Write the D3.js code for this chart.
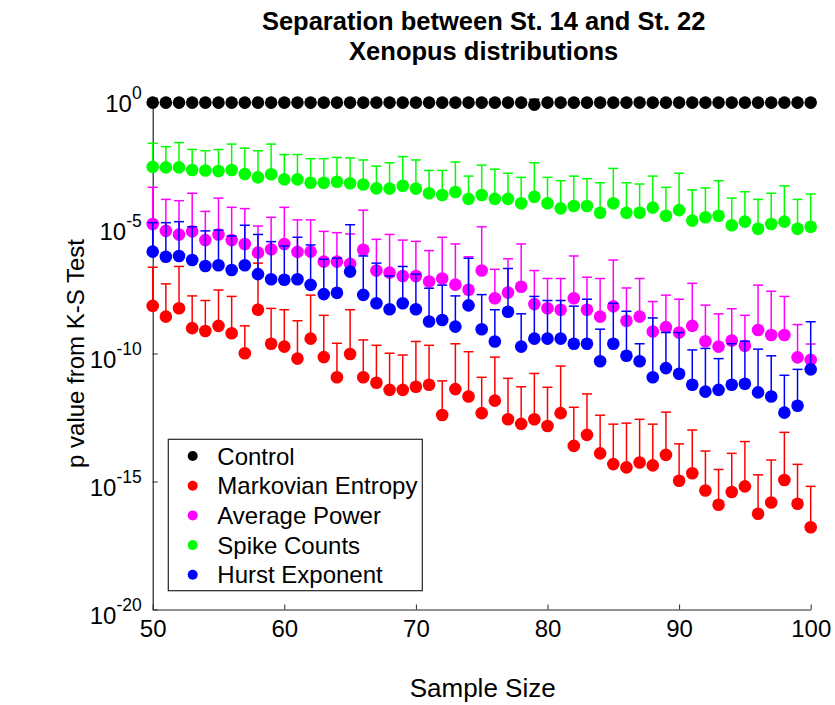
<!DOCTYPE html>
<html><head><meta charset="utf-8">
<script src="https://cdn.jsdelivr.net/npm/d3@7"></script>
<style>
body{margin:0;background:#fff}
svg{display:block}
text{font-family:"Liberation Sans",Arial,Helvetica,sans-serif;fill:#000}
</style>
</head><body>
<svg id="chart" width="835" height="705"></svg>
<script>
// ---- data (p values stored as log10 exponents) ----
const sampleSize = [50,51,52,53,54,55,56,57,58,59,60,61,62,63,64,65,66,67,68,69,70,71,72,73,74,75,76,77,78,79,80,81,82,83,84,85,86,87,88,89,90,91,92,93,94,95,96,97,98,99,100];
const seriesNames = ["Control","Markovian Entropy","Average Power","Spike Counts","Hurst Exponent"];
const seriesColors = ["#000000","#ff0000","#ff00ff","#00ff00","#0000ff"];

const controlLog = [-0.2,-0.2,-0.2,-0.2,-0.2,-0.2,-0.2,-0.2,-0.2,-0.2,-0.2,-0.2,-0.2,-0.2,-0.2,-0.2,-0.2,-0.2,-0.2,-0.2,-0.2,-0.2,-0.2,-0.2,-0.2,-0.2,-0.2,-0.2,-0.2,-0.28,-0.2,-0.2,-0.2,-0.2,-0.2,-0.2,-0.2,-0.2,-0.2,-0.2,-0.2,-0.2,-0.2,-0.2,-0.2,-0.2,-0.2,-0.2,-0.2,-0.2,-0.2];
const controlUpperLog = [-0.07,-0.07,-0.07,-0.07,-0.07,-0.07,-0.07,-0.07,-0.07,-0.07,-0.07,-0.07,-0.07,-0.07,-0.07,-0.07,-0.07,-0.07,-0.07,-0.07,-0.07,-0.07,-0.07,-0.07,-0.07,-0.07,-0.07,-0.07,-0.07,-0.07,-0.07,-0.07,-0.07,-0.07,-0.07,-0.07,-0.07,-0.07,-0.07,-0.07,-0.07,-0.07,-0.07,-0.07,-0.07,-0.07,-0.07,-0.07,-0.07,-0.07,-0.07];

const markovLog = [-8.14,-8.56,-8.23,-9.01,-9.12,-8.92,-9.21,-9.99,-8.29,-9.62,
  -9.73,-10.20,-9.42,-10.14,-10.93,-10.02,-10.93,-11.14,-11.42,-11.42,
  -11.30,-11.22,-12.40,-11.39,-11.68,-12.33,-11.84,-12.57,-12.75,-12.57,
  -12.83,-12.33,-13.61,-13.18,-13.90,-14.32,-14.45,-14.26,-14.37,-13.96,
  -14.97,-14.68,-15.35,-15.91,-15.41,-15.19,-16.26,-15.82,-14.94,-15.87,-16.79];
const markovUpperLog = [-6.63,-7.28,-6.60,-7.75,-7.93,-7.52,-7.77,-8.92,-6.47,-8.24,
  -8.29,-8.72,-7.72,-8.51,-9.60,-8.29,-9.47,-9.68,-9.99,-10.06,
  -9.53,-9.68,-11.07,-9.62,-9.93,-10.93,-10.14,-10.97,-11.30,-10.78,
  -11.32,-10.49,-12.10,-11.58,-12.41,-12.76,-12.72,-12.57,-12.76,-12.29,
  -13.53,-12.99,-13.81,-14.53,-13.90,-13.44,-14.74,-14.16,-13.08,-14.33,-15.19];

const powerLog = [-4.94,-5.21,-5.35,-5.23,-5.57,-5.35,-5.57,-5.72,-6.06,-5.93,
  -5.72,-6.03,-6.02,-6.41,-6.41,-6.50,-5.95,-6.76,-6.84,-6.97,
  -6.97,-7.19,-7.07,-7.31,-7.51,-6.76,-7.84,-7.62,-7.39,-8.07,
  -8.23,-8.29,-7.84,-8.29,-8.56,-8.16,-8.72,-8.56,-9.14,-8.97,
  -9.18,-8.92,-9.52,-9.73,-9.49,-9.70,-9.08,-9.28,-9.28,-10.15,-10.25];
const powerUpperLog = [-3.51,-3.98,-4.03,-3.74,-4.45,-3.93,-4.29,-4.34,-5.02,-4.68,
  -4.29,-4.78,-4.78,-5.23,-5.28,-5.33,-4.40,-5.54,-5.35,-5.57,
  -5.62,-5.98,-5.46,-5.72,-6.22,-5.05,-6.71,-6.30,-5.72,-6.76,
  -7.07,-7.07,-6.19,-7.02,-7.07,-6.35,-7.44,-7.07,-7.97,-7.72,
  -7.88,-7.26,-8.11,-8.45,-8.25,-8.51,-7.33,-7.57,-7.77,-8.87,-9.63];

const spikeLog = [-2.71,-2.73,-2.73,-2.83,-2.85,-2.87,-2.83,-2.99,-3.12,-3.00,
  -3.20,-3.20,-3.33,-3.33,-3.29,-3.35,-3.40,-3.55,-3.56,-3.45,
  -3.56,-3.74,-3.81,-3.69,-3.96,-3.81,-3.96,-3.96,-4.13,-3.88,
  -4.13,-4.33,-4.24,-4.24,-4.50,-4.13,-4.50,-4.50,-4.30,-4.62,
  -4.40,-4.81,-4.68,-4.62,-4.99,-4.85,-5.13,-4.94,-4.85,-5.13,-5.05];
const spikeUpperLog = [-1.79,-1.92,-1.76,-2.03,-2.08,-2.03,-1.82,-1.98,-2.08,-1.82,
  -2.23,-2.23,-2.39,-2.39,-2.34,-2.36,-2.44,-2.68,-2.55,-2.31,
  -2.44,-2.85,-2.85,-2.52,-3.07,-2.64,-2.80,-2.96,-3.12,-2.55,
  -3.12,-3.25,-3.07,-3.17,-3.33,-2.77,-3.33,-3.38,-3.07,-3.51,
  -2.96,-3.61,-3.53,-3.25,-3.93,-3.68,-3.98,-3.74,-3.45,-3.98,-3.77];

const hurstLog = [-6.02,-6.22,-6.19,-6.35,-6.58,-6.55,-6.74,-6.55,-6.90,-7.10,
  -7.12,-7.10,-7.32,-7.68,-7.63,-6.80,-7.71,-8.04,-8.27,-8.04,
  -8.27,-8.75,-8.69,-8.95,-8.12,-9.05,-9.53,-8.37,-9.73,-9.42,
  -9.42,-9.42,-9.62,-9.62,-10.30,-9.62,-10.09,-10.30,-10.93,-10.57,
  -10.79,-11.22,-11.49,-11.42,-11.22,-11.18,-11.52,-11.68,-12.31,-12.04,-10.62];
const hurstUpperLog = [-4.89,-4.89,-4.85,-5.05,-5.21,-5.18,-5.41,-4.99,-5.35,-5.63,
  -5.80,-5.46,-5.76,-6.32,-6.28,-4.97,-6.19,-6.47,-6.97,-6.60,
  -6.90,-7.45,-7.33,-7.75,-6.28,-7.70,-8.29,-6.68,-8.45,-7.77,
  -7.93,-7.93,-8.15,-7.88,-9.05,-8.04,-8.35,-9.62,-8.61,-9.18,
  -9.18,-9.86,-9.80,-10.20,-9.62,-9.52,-9.83,-10.09,-10.85,-10.62,-8.76];

const xTicks = [50,60,70,80,90,100];
const yTickExponents = [0,-5,-10,-15,-20];
const titleLines = ["Separation between St. 14 and St. 22","Xenopus distributions"];
const xLabel = "Sample Size";
const yLabel = "p value from K-S Test";

// ---- build series ----
const valueSets = [controlLog, markovLog, powerLog, spikeLog, hurstLog];
const upperSets = [controlUpperLog, markovUpperLog, powerUpperLog, spikeUpperLog, hurstUpperLog];
const series = seriesNames.map((name,i)=>({
  name, color: seriesColors[i],
  points: sampleSize.map((n,j)=>({n, p: Math.pow(10,valueSets[i][j]), up: Math.pow(10,upperSets[i][j])}))
}));

// ---- layout ----
const svg = d3.select("#chart");
const L = 152.7, R = 810.7, T = 97.5, B = 609.5;
const x = d3.scaleLinear().domain([50,100]).range([L,R]);
const y = d3.scaleLog().domain([1e-20,1]).range([B,T]);
const axisColor = "#262626";

// title
svg.append("g").selectAll("text").data(titleLines).join("text")
  .attr("x", (L+R)/2+2).attr("y",(d,i)=>30+i*30)
  .attr("text-anchor","middle").attr("font-size",25.5).attr("font-weight","bold")
  .text(d=>d);

// axes
const xAxis = d3.axisBottom(x).tickValues(xTicks).tickSize(-5).tickSizeOuter(0).tickPadding(11).tickFormat(d3.format("d"));
const gx = svg.append("g").attr("transform",`translate(0,${B})`).call(xAxis);
gx.select(".domain").attr("stroke",axisColor).attr("stroke-width",1.2);
gx.selectAll(".tick line").attr("stroke",axisColor);
gx.selectAll(".tick text").attr("font-size",24).attr("font-family","Liberation Sans, Arial, sans-serif").attr("fill","#000").attr("dy","0.7em");

const yAxis = d3.axisLeft(y).tickValues(yTickExponents.map(e=>Math.pow(10,e))).tickSize(-5).tickSizeOuter(0).tickFormat("");
const gy = svg.append("g").attr("transform",`translate(${L},0)`).call(yAxis);
gy.select(".domain").attr("stroke",axisColor).attr("stroke-width",1.2);
gy.selectAll(".tick line").attr("stroke",axisColor);

// y tick labels as 10^e
const yl = svg.append("g").selectAll("text").data(yTickExponents).join("text")
  .attr("x", L-11).attr("y", e=>y(Math.pow(10,e))+14)
  .attr("text-anchor","end").attr("font-size",24);
yl.append("tspan").text("10");
yl.append("tspan").attr("font-size",17.5).attr("dy",-13).text(e=>String(e));

// axis labels
svg.append("text").attr("x",(L+R)/2+1).attr("y",697).attr("text-anchor","middle").attr("font-size",26).text(xLabel);
svg.append("text").attr("transform",`translate(84,${(T+B)/2}) rotate(-90)`).attr("text-anchor","middle").attr("font-size",24).text(yLabel);

// series
const capHalf = 5, r = 6.3;
const gs = svg.append("g").selectAll("g").data(series).join("g");
gs.selectAll("line.stem").data(s=>s.points.map(p=>({...p,color:s.color}))).join("line")
  .attr("class","stem")
  .attr("x1",d=>x(d.n)).attr("x2",d=>x(d.n))
  .attr("y1",d=>y(d.p)).attr("y2",d=>y(d.up))
  .attr("stroke",d=>d.color).attr("stroke-width",1.5);
gs.selectAll("line.cap").data(s=>s.points.map(p=>({...p,color:s.color}))).join("line")
  .attr("class","cap")
  .attr("x1",d=>x(d.n)-capHalf).attr("x2",d=>x(d.n)+capHalf)
  .attr("y1",d=>y(d.up)).attr("y2",d=>y(d.up))
  .attr("stroke",d=>d.color).attr("stroke-width",1.5);
gs.selectAll("circle").data(s=>s.points.map(p=>({...p,color:s.color}))).join("circle")
  .attr("cx",d=>x(d.n)).attr("cy",d=>y(d.p)).attr("r",r)
  .attr("fill",d=>d.color);

// legend
const lg = svg.append("g");
lg.append("rect").attr("x",168.3).attr("y",439.3).attr("width",254).attr("height",151.4)
  .attr("fill","#fff").attr("stroke",axisColor).attr("stroke-width",1.2);
const items = lg.selectAll("g.item").data(series).join("g").attr("class","item")
  .attr("transform",(d,i)=>`translate(0,${456+i*29.7})`);
items.append("circle").attr("cx",192.7).attr("cy",0).attr("r",5).attr("fill",d=>d.color);
items.append("text").attr("x",217.3).attr("y",8.5).attr("font-size",24).text(d=>d.name);
</script>
</body></html>
